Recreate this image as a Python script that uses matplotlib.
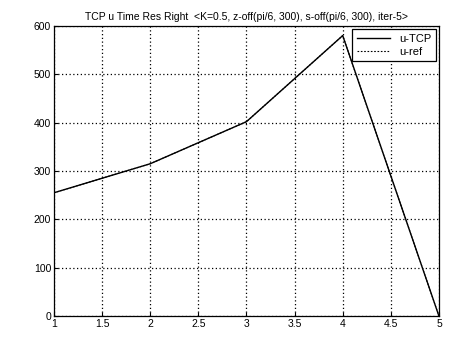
import matplotlib
matplotlib.use('Agg')
import matplotlib.pyplot as plt

# values
x = [1, 2, 3, 4, 5]
u_tcp = [255, 315, 402, 580, 0]
u_ref = [255, 315, 402, 580, 0]

xticks = [1, 1.5, 2, 2.5, 3, 3.5, 4, 4.5, 5]
xticklabels = ['1', '1.5', '2', '2.5', '3', '3.5', '4', '4.5', '5']
yticks = [0, 100, 200, 300, 400, 500, 600]

plt.rcParams['font.family'] = ['Liberation Sans', 'DejaVu Sans']

fig = plt.figure(figsize=(4.65, 3.41), dpi=100, facecolor='white')
ax = fig.add_axes([0.116, 0.073, 0.828, 0.851])

ax.plot(x, u_tcp, color='black', linewidth=1.0, linestyle='-', label='u-TCP')
ax.plot(x, u_ref, color='black', linewidth=0.8, linestyle=(0, (1.5, 1.5)), label='u-ref')

ax.set_xlim(1, 5)
ax.set_ylim(0, 600)
ax.set_xticks(xticks)
ax.set_xticklabels(xticklabels)
ax.set_yticks(yticks)
ax.tick_params(direction='in', length=3, labelsize=7.5, width=0.8, pad=2)
ax.grid(True, color='black', linestyle=(0, (1, 2)), linewidth=0.9)
for sp in ax.spines.values():
    sp.set_linewidth(0.9)

ax.set_title('TCP u Time Res Right  <K=0.5, z-off(pi/6, 300), s-off(pi/6, 300), iter-5>',
             fontsize=7.5, pad=4)

leg = ax.legend(loc='upper right', fontsize=8, fancybox=False, framealpha=1,
                edgecolor='black', borderaxespad=0.3, handlelength=3.0,
                borderpad=0.4, labelspacing=0.3)
leg.get_frame().set_linewidth(0.9)

plt.savefig('out.png', dpi=100, facecolor='white')
